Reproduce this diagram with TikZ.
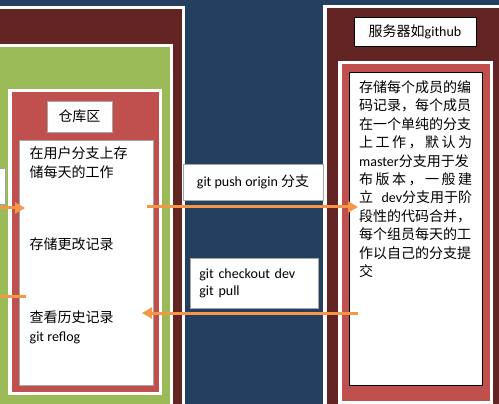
\documentclass[tikz,border=0pt]{standalone}
\usepackage{fontspec}
\usepackage{tikz}
\usetikzlibrary{arrows.meta}
\setmainfont{Carlito}
\newfontfamily\cjk{Noto Sans CJK SC}
\definecolor{gitnavy}{RGB}{36,63,96}
\definecolor{gitmaroon}{RGB}{99,37,35}
\definecolor{gitgreen}{RGB}{155,187,89}
\definecolor{gitred}{RGB}{192,80,77}
\definecolor{gitorange}{RGB}{247,150,70}
\definecolor{gitgray}{RGB}{166,166,166}

\begin{document}
\begin{tikzpicture}[x=1pt, y=-1pt,
    panel/.style={draw=white, line width=3.5pt, anchor=north west, inner sep=0pt, outer sep=0pt},
    tagbox/.style={draw=gitgray, line width=0.8pt, fill=white, anchor=north west, inner sep=0pt,
        font=\fontsize{14}{17}\selectfont},
    note/.style={anchor=north west, inner sep=0pt, align=left, font=\fontsize{14}{19}\selectfont},
    flow/.style={gitorange, line width=3pt}]
                \useasboundingbox (0,0) rectangle (499,404);
                \fill[gitnavy] (0,0) rectangle (499,404);

                % Local side
                \node[panel, fill=gitmaroon, minimum width=201.5, minimum height=420.5] (local) at (-18.25, 7.75) {};
                \node[panel, fill=gitgreen, minimum width=189.5, minimum height=382.5] (work) at (-18.25, 45.75) {};
                \node[tagbox, minimum width=25, minimum height=36] (stub) at (-20, 168) {};
                \node[panel, fill=gitred, minimum width=150.5, minimum height=302.5] (repo) at (9.75, 90.75) {};
                \node[tagbox, minimum width=65, minimum height=31, anchor=center] (repoTag) at (79.5, 116.5) {\cjk 仓库区};
                \node[tagbox, minimum width=134, minimum height=245] (repoBox) at (19, 140) {};

                \node[note] (daily) at (29.5, 146.5) {\cjk 在用户分支上存\\\cjk 储每天的工作};
                \node[note] (store) at (29.5, 237.5) {\cjk 存储更改记录};
                \node[note] (history) at (29.5, 310.5) {\cjk 查看历史记录\\git reflog};

                % Remote side
                \node[panel, fill=gitmaroon, minimum width=193.5, minimum height=421.5] (server) at (324.75, 6.75) {};
                \node[tagbox, draw=black, minimum width=122, minimum height=29, anchor=center] (serverTag) at (415, 31.5) {{\cjk 服务器如}github};
                \node[panel, fill=gitred, minimum width=151.5, minimum height=339.5] (remote) at (339.75, 62.75) {};
                \node[tagbox, draw=black, line width=1.2pt, minimum width=133, minimum height=313] (remoteBox) at (349, 72) {};
                \node[note, font=\fontsize{14}{18.4}\selectfont\cjk] (members) at (359, 80.5) {%
                    存储每个成员的编\\
                    码记录，每个成员\\
                    在一个单纯的分支\\
                    \hbox to 113pt{上\hfil 工\hfil 作\hfil ，\hfil 默\hfil 认\hfil 为}\\
                    {\rmfamily master}分支用于发\\
                    \hbox to 113pt{布\hfil 版\hfil 本\hfil ，\hfil 一\hfil 般\hfil 建}\\
                    \hbox to 113pt{立\hfil{\rmfamily dev}分支用于阶}\\
                    段性的代码合并，\\
                    每个组员每天的工\\
                    作以自己的分支提\\
                    交};

                % Commands between the two
                \node[tagbox, minimum width=140, minimum height=36, anchor=center] (pushTag) at (253, 182) {git push origin {\cjk 分支}};
                \node[tagbox, minimum height=50, text width=110pt, inner xsep=9pt, align=left] (pullTag) at (190, 258) {git checkout dev\\git pull};

                % Arrows
                \coordinate (inA) at (-5, 208);
                \coordinate (inAend) at (25, 208);
                \coordinate (inB) at (-5, 296);
                \coordinate (inBend) at (26, 296);
                \coordinate (pushStart) at (147, 207);
                \coordinate (pushEnd) at (358, 207);
                \coordinate (pullStart) at (358, 313);
                \coordinate (pullEnd) at (142, 313);
                \draw[flow, -{Triangle[length=10pt, width=11pt]}] (inA) -- (inAend);
                \draw[flow] (inB) -- (inBend);
                \draw[flow, -{Triangle[length=10pt, width=11pt]}] (pushStart) -- (pushEnd);
                \draw[flow, -{Triangle[length=10pt, width=11pt]}] (pullStart) -- (pullEnd);
            \end{tikzpicture}
\end{document}
